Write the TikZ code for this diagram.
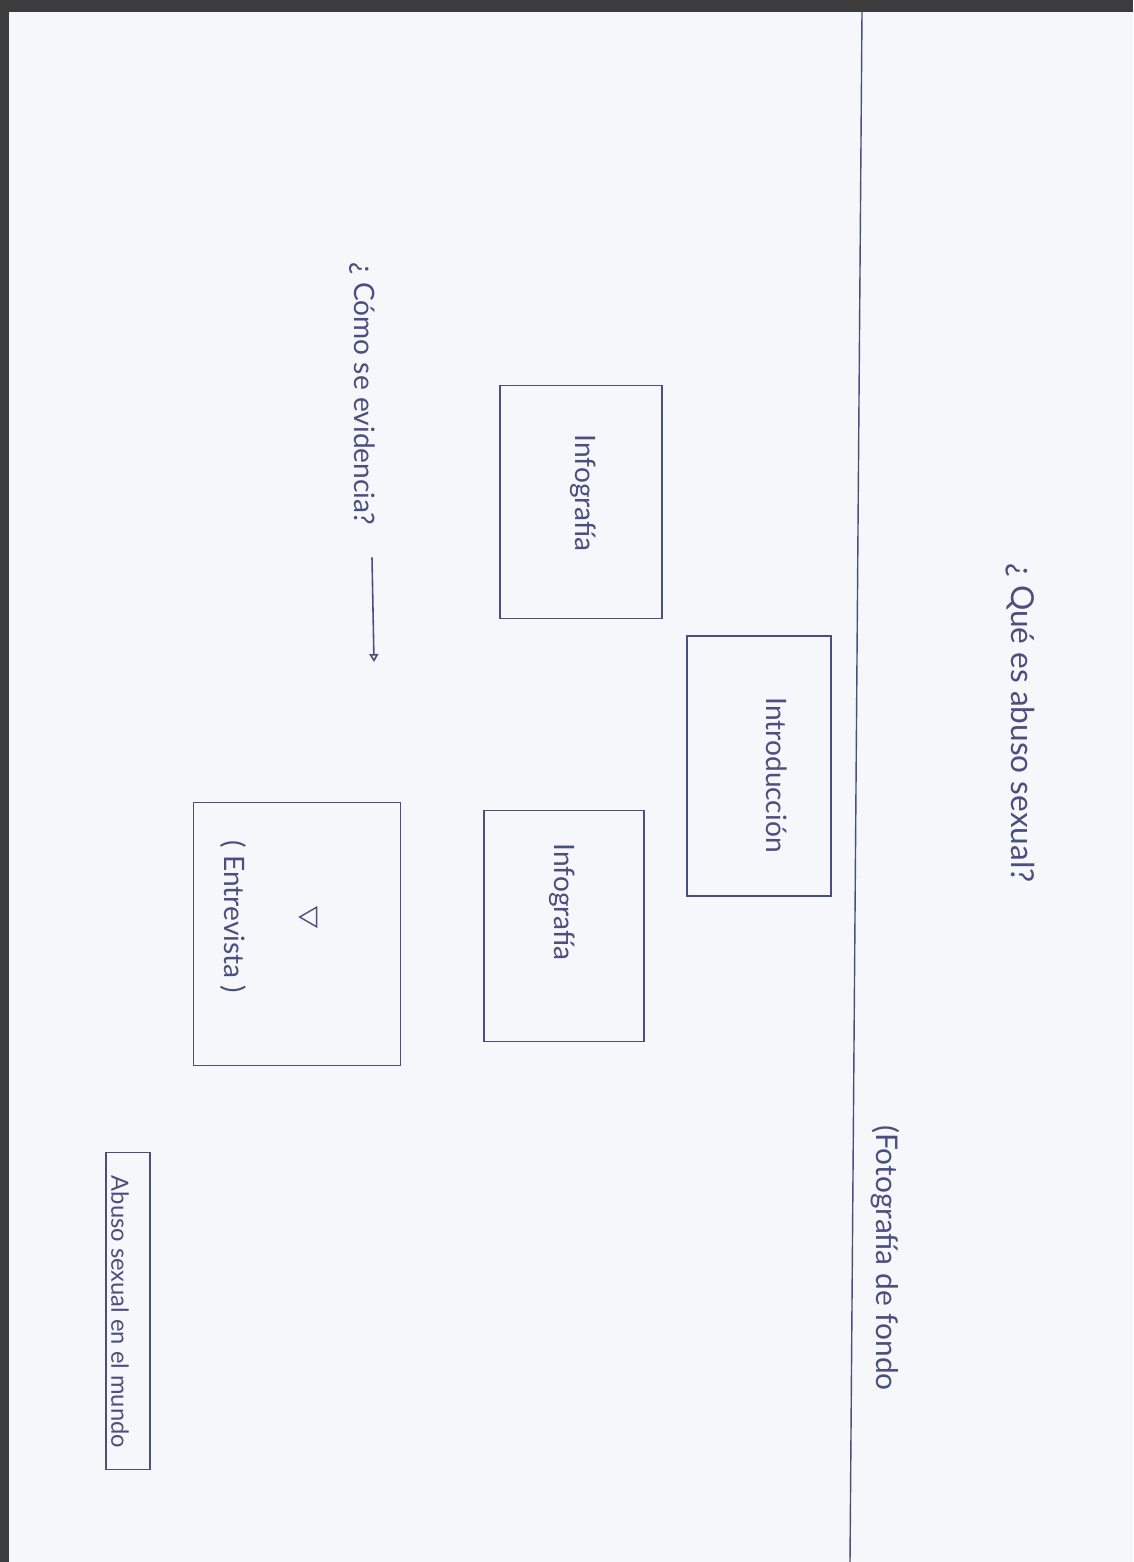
\documentclass[tikz,border=0pt]{standalone}
\usepackage{fontspec}
\setmainfont{Lato}
\usepackage{xcolor}
\definecolor{ink}{HTML}{4B4F7E}
\definecolor{paper}{HTML}{F6F7FA}
\definecolor{scanedge}{HTML}{3C3C3C}
\usepackage{tikz}
\usetikzlibrary{arrows.meta,positioning,calc,shapes.geometric}
\tikzset{
  sketchbox/.style = {draw=ink,line width=0.9pt,inner sep=0pt},
  hand/.style      = {text=ink,rotate=-90,inner sep=1pt},
  boxlbl/.style    = {hand,font=\fontsize{16}{18}\selectfont},
  bigq/.style      = {hand,font=\fontsize{18}{20}\selectfont},
  playmark/.style  = {draw=ink,line width=0.8pt,isosceles triangle,
                      isosceles triangle apex angle=60,shape border rotate=180,
                      minimum height=0.34cm,inner sep=0pt},
  pointer/.style   = {draw=ink,line width=0.9pt,
                      -{Triangle[open,length=1.6mm,width=1.8mm]}},
}

\begin{document}
\begin{tikzpicture}[x=0.02cm,y=-0.02cm]
    \useasboundingbox (0,0) rectangle (1133,1562);
    % scanned sheet
    \fill[paper] (0,0) rectangle (1133,1562);
    \fill[scanedge] (0,0) rectangle (1133,12);
    \fill[scanedge] (0,0) rectangle (9,1562);
    \draw[ink,line width=0.8pt] (862,12) -- (850,1562);

    % right column
    \node[bigq] (que) at (1020,723) {¿ Qué es abuso sexual?};
    \node[hand,font=\fontsize{17}{19}\selectfont] (foto) at (885,1258) {(Fotografía de fondo};

    % boxes
    \node[sketchbox,minimum width=2.88cm,minimum height=5.2cm] (intro) at (759,766) {};
    \node[boxlbl] (introtxt) at (777,775) {Introducción};

    \node[sketchbox,minimum width=3.24cm,minimum height=4.66cm] (info1) at (581,502) {};
    \node[boxlbl] (info1txt) at (583,493) {Infografía};

    \node[sketchbox,minimum width=3.2cm,minimum height=4.62cm] (info2) at (564,926) {};
    \node[boxlbl] (info2txt) at (562,902) {Infografía};

    \node[sketchbox,minimum width=4.14cm,minimum height=5.26cm] (entrev) at (297,934) {};
    \node[boxlbl] (entrevtxt) at (233,917) {( Entrevista )};
    \node[playmark] (play) at (311,917) {};

    % question with arrow
    \node[hand,font=\fontsize{16}{18}\selectfont] (como) at (362,394) {¿ Cómo se evidencia?};
    \coordinate (tip) at (374,662);
    \draw[pointer] ([xshift=0.2cm,yshift=-0.6cm]como.east) -- (tip);

    % bottom left label
    \node[sketchbox,minimum width=0.88cm,minimum height=6.34cm] (abuso) at (128,1311) {};
    \node[hand,font=\fontsize{13.5}{15}\selectfont] (abusotxt) at (120,1312) {Abuso sexual en el mundo};
\end{tikzpicture}
\end{document}
